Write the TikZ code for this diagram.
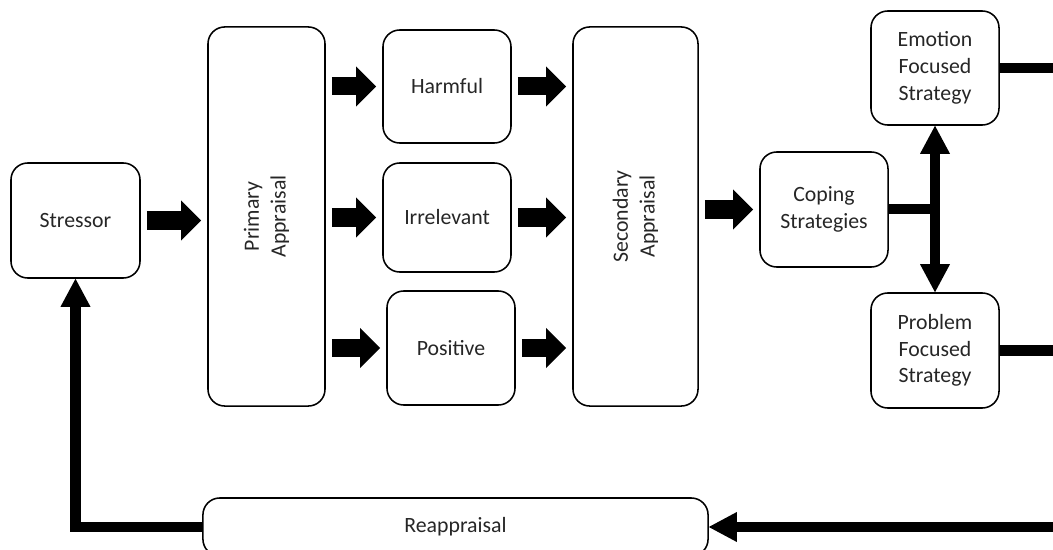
\documentclass[tikz,border=0pt]{standalone}
\usepackage{fontspec}
\setmainfont{Carlito}
\usetikzlibrary{arrows.meta, positioning}

\tikzset{
  box/.style={draw, rectangle, rounded corners=0.42cm, line width=1.1pt, align=center,
    text=black!85, font=\fontsize{15.5}{19}\selectfont, inner sep=2pt},
  fathead/.tip={Triangle[width=0.75cm, length=0.7cm, line width=0pt]},
  blockarrow/.style={line width=0.45cm, -{Triangle[width=1cm, length=0.5cm, line width=0pt]},
    shorten <=0.15cm, shorten >=0.15cm},
  link/.style={line width=0.25cm},
}

\begin{document}
\begin{tikzpicture}[x=0.025cm, y=-0.025cm]
        \useasboundingbox (0,0) rectangle (1053,550);
        \coordinate (rim) at (1053,550);

        % Draw the blocks
        \node (stressor)    [box, minimum width=3.225cm, minimum height=2.875cm] at (75.5,220.5) {Stressor};
        \node (primary)     [box, rotate=90, minimum width=9.475cm, minimum height=2.925cm] at (266.5,216.5) {Primary\\Appraisal};
        \node (harmful)     [box, minimum width=3.2cm, minimum height=2.825cm] at (447,86.5) {Harmful};
        \node (irrelevant)  [box, minimum width=3.2cm, minimum height=2.725cm] at (447,217.5) {Irrelevant};
        \node (positive)    [box, minimum width=3.2cm, minimum height=2.85cm] at (451,348) {Positive};
        \node (secondary)   [box, rotate=90, minimum width=9.475cm, minimum height=3.125cm] at (635.5,216.5) {Secondary\\Appraisal};
        \node (coping)      [box, minimum width=3.2cm, minimum height=2.875cm] at (824,209.5) {Coping\\Strategies};
        \node (emotion)     [box, minimum width=3.2cm, minimum height=2.85cm] at (935,68) {Emotion\\Focused\\Strategy};
        \node (problem)     [box, minimum width=3.2cm, minimum height=2.875cm] at (935,350.5) {Problem\\Focused\\Strategy};
        \node (reappraisal) [box, minimum width=12.625cm, minimum height=1.45cm] at (455.5,527) {Reappraisal};

        % Draw the block arrows (rotated boxes: north is the left side, south the right side)
        \draw [blockarrow] (stressor.east) -- (stressor.east -| primary.north);
        \draw [blockarrow] (primary.south |- harmful) -- (harmful.west);
        \draw [blockarrow] (primary.south |- irrelevant) -- (irrelevant.west);
        \draw [blockarrow] (primary.south |- positive) -- (positive.west);
        \draw [blockarrow] (harmful.east) -- (harmful.east -| secondary.north);
        \draw [blockarrow] (irrelevant.east) -- (irrelevant.east -| secondary.north);
        \draw [blockarrow] (positive.east) -- (positive.east -| secondary.north);
        \draw [blockarrow] (secondary.south |- coping) -- (coping.west);

        % Draw the connecting lines
        \coordinate (split) at (emotion.south |- coping.east);
        \draw [link, shorten >=-0.125cm] (coping.east) -- (split);
        \draw [link, fathead-fathead] (emotion.south) -- (problem.north);
        \draw [link] (emotion.east) -- (emotion.east -| rim);
        \draw [link] (problem.east) -- (problem.east -| rim);
        \draw [link, -fathead] (reappraisal.east -| rim) -- (reappraisal.east);
        \draw [link, -fathead] (reappraisal.west) -| (stressor.south);
    \end{tikzpicture}
\end{document}
